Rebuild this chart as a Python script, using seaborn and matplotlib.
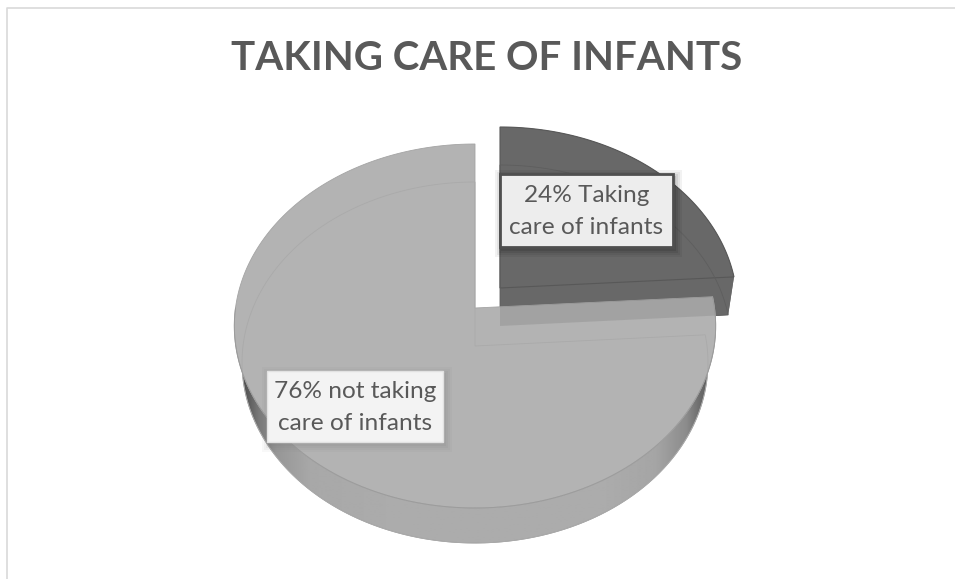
import numpy as np
import matplotlib
matplotlib.use("Agg")
import matplotlib.pyplot as plt
from matplotlib.patches import Polygon, Rectangle
import seaborn as sns

# --- data ---
categories = ["Taking care of infants", "not taking care of infants"]
shares = [24, 76]
label_texts = ["24% Taking\ncare of infants", "76% not taking\ncare of infants"]
title_text = "TAKING CARE OF INFANTS"

sns.set_theme(style="white")
plt.rcParams["font.family"] = ["Lato", "DejaVu Sans"]
slice_colors = sns.color_palette(["#686868", "#b3b3b3"])

fig = plt.figure(figsize=(9.55, 5.79), dpi=100)
ax = fig.add_axes([0, 0, 1, 1])

wedges, _ = ax.pie(shares, colors=slice_colors, startangle=90, counterclock=False)
ax.set_aspect("auto")
ax.set_xlim(0, 955)
ax.set_ylim(579, 0)
ax.axis("off")


def projector(cx, cy, rx, up, down):
    """Perspective map of the unit pie plane to a tilted plane (pixel axes)."""
    k = (down - up) / (down + up)
    a = 2 * up * down / (down + up)

    def apply(xy):
        xy = np.atleast_2d(xy)
        w = 1 + k * xy[:, 1]
        return np.column_stack([cx + rx * xy[:, 0] / w, cy - a * xy[:, 1] / w])
    return apply


def arc(t0, t1, n=300):
    t = np.radians(np.linspace(t0, t1, n))
    return np.column_stack([np.cos(t), np.sin(t)])


def wedge_xy(w):
    """Outline of a pie wedge in the unit plane, finely sampled from its angles."""
    return np.vstack([[[0, 0]], arc(w.theta1, w.theta2)])


dark, light = wedges
for w in wedges:
    w.set_visible(False)
split_angle = dark.theta1

big_top = projector(475, 308, 239.5, 164, 200)
big_bot = projector(475, 346, 232, 164, 197)
small_top = projector(500, 288, 236, 161, 199)
small_bot = projector(500, 326, 230, 161, 196)

dark_c = "#686868"
light_c = "#b3b3b3"

# dark slice body
dtop = small_top(wedge_xy(dark))
dbot = small_bot(wedge_xy(dark))
dside = np.vstack([small_top(arc(dark.theta1, dark.theta2)),
                   small_bot(arc(dark.theta2, dark.theta1))])
edge_cut = np.vstack([small_top(arc(split_angle, split_angle, 1)), small_top([[0, 0]]),
                      small_bot([[0, 0]]), small_bot(arc(split_angle, split_angle, 1))])
for xy in (dbot, dside, edge_cut, dtop):
    ax.add_patch(Polygon(xy, closed=True, fc=dark_c, ec="none", zorder=2))
ax.add_patch(Polygon(dtop, closed=True, fc="none", ec="#585858", lw=0.8, zorder=2.2))
ax.add_patch(Polygon(dbot, closed=True, fc="none", ec="#5e5e5e", lw=0.6, zorder=2.2))

# big slice side with horizontal shading
side_end = 360 + split_angle
side = np.vstack([big_top(arc(180, side_end)), big_bot(arc(side_end, 180))])
side_patch = Polygon(side, closed=True, fc="none", ec="none", zorder=3)
ax.add_patch(side_patch)
xs = [235, 245, 258, 275, 310, 400, 475, 600, 655, 685, 700, 715]
gs = [70, 85, 120, 150, 168, 172, 172, 172, 165, 140, 105, 85]
grad = np.interp(np.arange(235, 716), xs, gs)[None, :]
im = ax.imshow(grad, extent=(235, 716, 550, 300), cmap="gray", vmin=0, vmax=255,
               aspect="auto", zorder=3)
im.set_clip_path(side_patch)
ax.set_xlim(0, 955)
ax.set_ylim(579, 0)
ax.plot(*big_bot(arc(180, side_end)).T, color="#9f9f9f", lw=0.6, zorder=3.1)

# big slice top face
ltop = big_top(wedge_xy(light))
top_patch = Polygon(ltop, closed=True, fc=light_c, ec="#a4a4a4", lw=0.6, zorder=4)
ax.add_patch(top_patch)

# dark slice seen through the big slice's cut edge
seen = Polygon(dbot, closed=True, fc="#000000", alpha=0.09, ec="none", zorder=4.2)
ax.add_patch(seen)
seen.set_clip_path(Polygon(ltop, closed=True, transform=ax.transData))

# hidden base outline seen through the face
lbot = big_bot(wedge_xy(light))
ax.add_patch(Polygon(lbot, closed=True, fc="none", ec="#aaaaaa", lw=0.6, zorder=4.3))
ax.plot(*big_top(arc(180, side_end)).T, color="#9c9c9c", lw=0.7, zorder=4.4)

# labels
boxes = [(500, 174, 172.5, 73, "#ededed", "#4f4f4f", 2.0, "#000000"),
         (267, 371, 176, 71, "#f3f3f3", "#e2e2e2", 1.0, "#777777")]
for txt, (x, y, w, h, fc, ec, lw, sc) in zip(label_texts, boxes):
    for g, al in ((9, .05), (7, .06), (5, .08), (3, .10)):
        ax.add_patch(Rectangle((x - g + 4, y - g + 5), w + 2 * g - 4, h + 2 * g - 4,
                               fc=sc, ec="none", alpha=al, zorder=5))
    ax.add_patch(Rectangle((x, y), w, h, fc=fc, ec=ec, lw=lw, zorder=5.5))
    ax.text(x + w / 2, y + h / 2 + 1, txt, ha="center", va="center", color="#595959",
            fontsize=17.6, linespacing=1.62, zorder=6)

# title and chart frame
ax.text(487, 58, title_text, ha="center", va="center", color="#595959",
        fontsize=29, fontweight="bold", zorder=6)
ax.plot([7, 7, 955], [579, 8, 8], color="#d9d9d9", lw=1.2, zorder=1)

fig.savefig("out.png", dpi=100, facecolor="white")
